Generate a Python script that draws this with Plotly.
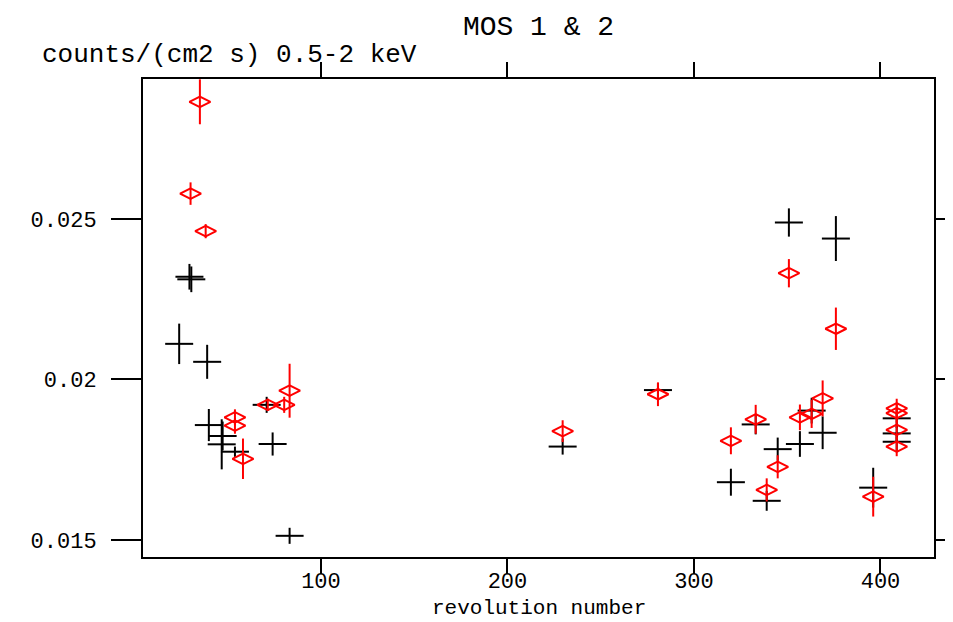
import plotly.graph_objects as go

# MOS1 (black crosses)
black_rev = [24.0, 29.5, 30.5, 39.0, 39.9, 47.3, 46.8, 53.9, 70.9, 74.1, 83.2,
             229.6, 280.7, 319.8, 333.1, 339.0, 344.9, 350.9, 356.8, 363.1, 369.0,
             376.1, 396.1, 408.7, 408.7, 408.7]
black_rate = [0.02111, 0.02320, 0.02312, 0.02055, 0.01858, 0.01824, 0.01798, 0.01775,
              0.01921, 0.01799, 0.01513, 0.01791, 0.01967, 0.01680, 0.01860, 0.01622,
              0.01783, 0.02489, 0.01799, 0.01903, 0.01834, 0.02439, 0.01663, 0.01879,
              0.01832, 0.01806]
black_err = [0.00063, 0.00040, 0.00040, 0.00053, 0.00050, 0.00045, 0.00078, 0.00016,
             0.00025, 0.00036, 0.00025, 0.00025, 0.00022, 0.00042, 0.00031, 0.00031,
             0.00036, 0.00044, 0.00040, 0.00040, 0.00051, 0.00070, 0.00062, 0.00030,
             0.00030, 0.00030]

# MOS2 (red diamonds)
red_rev = [30.1, 35.1, 38.2, 53.9, 53.9, 58.2, 71.5, 80.3, 83.2, 229.6, 280.7,
           319.8, 333.1, 339.0, 344.9, 350.9, 356.8, 363.1, 369.0, 376.1, 396.1,
           408.7, 408.7, 408.7, 408.7]
red_rate = [0.02579, 0.02865, 0.02462, 0.01882, 0.01856, 0.01753, 0.01921, 0.01921,
            0.01965, 0.01839, 0.01954, 0.01809, 0.01876, 0.01656, 0.01728, 0.02331,
            0.01882, 0.01893, 0.01941, 0.02158, 0.01635, 0.01910, 0.01895, 0.01843,
            0.01791]
red_err = [0.00035, 0.00070, 0.00022, 0.00025, 0.00025, 0.00063, 0.00019, 0.00025,
           0.00084, 0.00034, 0.00037, 0.00042, 0.00045, 0.00036, 0.00036, 0.00044,
           0.00040, 0.00044, 0.00056, 0.00066, 0.00062, 0.00030, 0.00030, 0.00030,
           0.00030]

x_ticks = [100, 200, 300, 400]
x_ticktext = ["100", "200", "300", "400"]
y_ticks = [0.015, 0.020, 0.025]
y_ticktext = ["0.015", "0.02", "0.025"]

title_text = "MOS 1 & 2"
y_title = "counts/(cm2 s) 0.5-2 keV"
x_title = "revolution number"

FONT = "Liberation Mono"

# page body has an 8px margin, so the figure is sized to the remaining view
W, H = 945, 614
ML, MT, MR, MB = 135, 71, 19, 65
PW = W - ML - MR

fig = go.Figure()
fig.add_trace(go.Scatter(
    x=black_rev, y=black_rate, mode="markers",
    marker=dict(symbol="line-ew", size=20, color="black",
                line=dict(color="black", width=2)),
    error_y=dict(type="data", array=black_err, visible=True,
                 color="black", thickness=2, width=0),
    showlegend=False,
))
fig.add_trace(go.Scatter(
    x=red_rev, y=red_rate, mode="markers",
    marker=dict(symbol="diamond-wide-open", size=15, color="red",
                line=dict(color="red", width=2)),
    error_y=dict(type="data", array=red_err, visible=True,
                 color="red", thickness=2, width=0),
    showlegend=False,
))

axis_common = dict(
    showline=True, linecolor="black", linewidth=2, mirror="allticks",
    ticks="outside", tickcolor="black", tickwidth=2,
    showgrid=False, zeroline=False, automargin=False,
    tickfont=dict(family=FONT, size=22, color="black"),
)

fig.update_layout(
    width=W, height=H,
    margin=dict(l=ML, r=MR, t=MT, b=MB, pad=0),
    paper_bgcolor="white", plot_bgcolor="white",
    font=dict(family=FONT, color="black"),
    title=dict(text=title_text, x=0.5, xref="paper", xanchor="center",
               y=1 - 17 / H, yref="container", yanchor="middle",
               pad=dict(t=0, b=0, l=0, r=0),
               font=dict(family=FONT, size=28, color="black")),
    xaxis=dict(range=[4.6, 428.7], tickvals=x_ticks, ticktext=x_ticktext,
               ticklen=15, ticklabelstandoff=-12, **axis_common),
    yaxis=dict(range=[0.01447, 0.02936], tickvals=y_ticks, ticktext=y_ticktext,
               ticklen=30, ticklabelstandoff=10, **axis_common),
    annotations=[
        dict(text=y_title, xref="paper", yref="paper",
             x=(32 - ML) / PW, y=1.0, xanchor="left",
             yanchor="middle", yshift=24, showarrow=False,
             font=dict(family=FONT, size=26, color="black")),
        dict(text=x_title, xref="paper", yref="paper",
             x=0.5, y=0.0, xanchor="center",
             yanchor="middle", yshift=-51, showarrow=False,
             font=dict(family=FONT, size=21, color="black")),
    ],
)

fig.write_html("out.html")
